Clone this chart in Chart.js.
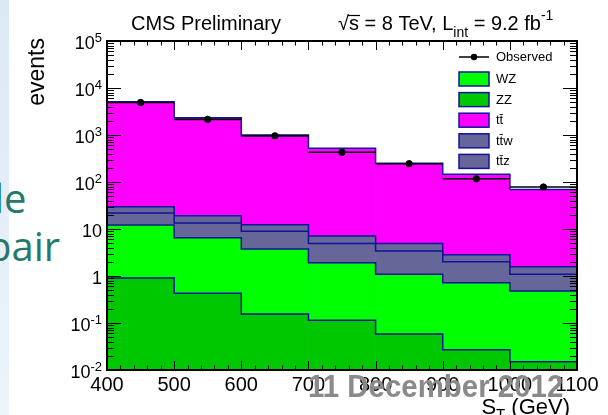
<!DOCTYPE html>
<html>
<head>
<meta charset="utf-8">
<title>S_T distribution</title>
<script src="https://cdn.jsdelivr.net/npm/chart.js@4.4.1/dist/chart.umd.min.js"></script>
<style>
  html, body { margin: 0; padding: 0; background: #fff; }
  #page { position: relative; width: 608px; height: 415px; overflow: hidden; }
  #strip { position: absolute; left: 0; top: 0; width: 9px; height: 415px;
           background: linear-gradient(to bottom, #dce8f5, #edf4fb); }
  .slide { position: absolute; color: #24796a; font-family: "Open Sans", "Noto Sans", sans-serif;
           font-size: 40px; line-height: 1; white-space: nowrap; }
  #stChart { position: absolute; left: 0; top: 0; }
  #date { position: absolute; left: 308px; top: 370px; font: bold 32px "Liberation Sans", Arial, sans-serif;
          line-height: 1; color: #8a8a8a; white-space: nowrap; transform: scaleX(0.92); transform-origin: left top; }
</style>
</head>
<body>
<div id="page">
  <div id="strip"></div>
  <div class="slide" style="left:-6px; top:178px;">le</div>
  <div class="slide" style="left:-13px; top:226px;">pair</div>
  <canvas id="stChart" width="608" height="415"></canvas>
  <div id="date">11 December 2012</div>
</div>
<script>
const FONT = '"Liberation Sans", Arial, Helvetica, sans-serif';

// S_T bins (GeV) and the labels of the lower axis
const stBins = ['400-500', '500-600', '600-700', '700-800', '800-900', '900-1000', '1000-1100'];
const stTicks = [400, 500, 600, 700, 800, 900, 1000, 1100];
const decades = [-2, -1, 0, 1, 2, 3, 4, 5];

// events per bin
const observed = [4900, 2150, 960, 430, 245, 117, 78];
const zz = [0.91, 0.43, 0.155, 0.114, 0.058, 0.027, 0.015];
const wz = [11.3, 6.1, 3.6, 1.8, 1.03, 0.69, 0.465];
const ttw = [9.8, 6.9, 5.15, 3.0, 2.3, 1.3, 0.61];
const ttz = [7.8, 5.8, 3.4, 2.2, 1.55, 0.8, 0.49];
const ttbar = [5070, 2310, 988, 513, 245, 143, 68];

const legendOrder = ['Observed', 'WZ', 'ZZ', 'tt\u0304', 'tt\u0304w', 'tt\u0304z'];

const colWZ = '#00ff00';
const colZZ = '#00c800';
const colTT = '#ff00ff';
const colTTV = '#666699';
const colLine = '#12129c';

// superscript helper: base text followed by a raised exponent
function drawPow(ctx, base, sup, xRight, y, size, supSize) {
  ctx.font = `${size}px ${FONT}`;
  const wb = ctx.measureText(base).width;
  ctx.font = `${supSize}px ${FONT}`;
  const ws = sup ? ctx.measureText(sup).width : 0;
  const x0 = xRight - wb - ws;
  ctx.font = `${size}px ${FONT}`;
  ctx.fillText(base, x0, y + 8);
  if (sup) {
    ctx.font = `${supSize}px ${FONT}`;
    ctx.fillText(sup, x0 + wb, y + 1);
  }
}

const rootStyle = {
  id: 'rootStyle',
  // blue step outline on top of each stacked layer
  afterDatasetDraw(chart, args) {
    const ds = chart.data.datasets[args.index];
    if (ds.type === 'line') return;
    const ctx = chart.ctx;
    ctx.save();
    ctx.strokeStyle = colLine;
    ctx.lineWidth = 1.5;
    ctx.beginPath();
    args.meta.data.forEach((b, i) => {
      const l = b.x - b.width / 2, r = b.x + b.width / 2;
      if (i === 0) ctx.moveTo(l, b.y); else ctx.lineTo(l, b.y);
      ctx.lineTo(r, b.y);
    });
    ctx.stroke();
    ctx.restore();
  },
  // observed: bin-width horizontal bars under the markers
  beforeDatasetDraw(chart, args) {
    const ds = chart.data.datasets[args.index];
    if (ds.type !== 'line') return;
    const ctx = chart.ctx;
    const x = chart.scales.x;
    const half = (x.getPixelForValue(1) - x.getPixelForValue(0)) / 2;
    ctx.save();
    ctx.strokeStyle = '#000';
    ctx.lineWidth = 1.6;
    ctx.beginPath();
    args.meta.data.forEach(p => {
      ctx.moveTo(p.x - half, p.y);
      ctx.lineTo(p.x + half, p.y);
    });
    ctx.stroke();
    ctx.restore();
  },
  afterDraw(chart) {
    const ctx = chart.ctx;
    const { left, right, top, bottom } = chart.chartArea;
    const y = chart.scales.y;
    const xv = chart.scales.xv;
    ctx.save();

    // inward tick marks on all four sides
    ctx.strokeStyle = '#000';
    ctx.lineWidth = 1;
    ctx.beginPath();
    decades.forEach(e => {
      for (let m = 1; m < 10; m++) {
        if (e === 5 && m > 1) break;
        const py = Math.round(y.getPixelForValue(m * Math.pow(10, e))) + 0.5;
        const len = m === 1 ? 14 : 7;
        ctx.moveTo(left, py); ctx.lineTo(left + len, py);
        ctx.moveTo(right, py); ctx.lineTo(right - len, py);
      }
    });
    for (let v = 400; v <= 1100; v += 20) {
      const px = Math.round(xv.getPixelForValue(v)) + 0.5;
      const len = v % 100 === 0 ? 9 : 4.5;
      ctx.moveTo(px, bottom); ctx.lineTo(px, bottom - len);
      ctx.moveTo(px, top); ctx.lineTo(px, top + len);
    }
    ctx.stroke();

    // frame
    ctx.lineWidth = 2;
    ctx.strokeRect(left, top, right - left, bottom - top);

    // y tick labels 10^n
    ctx.fillStyle = '#000';
    ctx.textAlign = 'left';
    ctx.textBaseline = 'alphabetic';
    decades.forEach(e => {
      const py = y.getPixelForValue(Math.pow(10, e));
      const base = e === 0 ? '1' : '10';
      const sup = (e === 0 || e === 1) ? '' : String(e);
      drawPow(ctx, base, sup, left - 5, py, 18, 13);
    });

    // y title
    ctx.save();
    ctx.translate(44, 38);
    ctx.rotate(-Math.PI / 2);
    ctx.textAlign = 'right';
    ctx.font = `23px ${FONT}`;
    ctx.fillText('events', 0, 0);
    ctx.restore();

    // x title S_T (GeV)
    ctx.font = `22px ${FONT}`;
    const wS = ctx.measureText('S').width;
    const wRest = ctx.measureText(' (GeV)').width;
    ctx.font = `15px ${FONT}`;
    const wT = ctx.measureText('T').width;
    let tx = 570 - wS - wT - wRest;
    ctx.font = `22px ${FONT}`;
    ctx.fillText('S', tx, 414);
    ctx.font = `15px ${FONT}`;
    ctx.fillText('T', tx + wS, 419);
    ctx.font = `22px ${FONT}`;
    ctx.fillText(' (GeV)', tx + wS + wT, 414);

    // header
    ctx.font = `20px ${FONT}`;
    ctx.fillText('CMS Preliminary', 131, 30);
    let hx = 338;
    ctx.fillText('\u221A', hx, 30);
    hx += ctx.measureText('\u221A').width;
    const wSmall = ctx.measureText('s').width;
    ctx.fillText('s', hx, 30);
    ctx.lineWidth = 1.2;
    ctx.beginPath();
    ctx.moveTo(hx - 1, 15.5); ctx.lineTo(hx + wSmall + 1, 15.5);
    ctx.stroke();
    hx += wSmall;
    const part1 = ' = 8 TeV, L';
    ctx.fillText(part1, hx, 30);
    hx += ctx.measureText(part1).width;
    ctx.font = `14px ${FONT}`;
    ctx.fillText('int', hx, 37);
    hx += ctx.measureText('int').width;
    ctx.font = `20px ${FONT}`;
    const part2 = ' = 9.2 fb';
    ctx.fillText(part2, hx, 30);
    hx += ctx.measureText(part2).width;
    ctx.font = `14px ${FONT}`;
    ctx.fillText('-1', hx, 20);

    // legend
    const lx0 = right - 118, lx1 = right - 88, ltx = right - 81;
    ctx.textBaseline = 'middle';
    ctx.textAlign = 'left';
    legendOrder.forEach((name, k) => {
      const ds = chart.data.datasets.find(d => d.label === name);
      ctx.font = `13px ${FONT}`;
      ctx.fillStyle = '#000';
      if (ds.type === 'line') {
        const yc = top + 16;
        ctx.strokeStyle = '#000';
        ctx.lineWidth = 1.5;
        ctx.beginPath();
        ctx.moveTo(lx0, yc); ctx.lineTo(lx1, yc);
        ctx.stroke();
        ctx.beginPath();
        ctx.arc((lx0 + lx1) / 2, yc, 3.2, 0, Math.PI * 2);
        ctx.fill();
        ctx.fillText(name, ltx, yc);
      } else {
        const yb = top + 31 + (k - 1) * 20.6;
        ctx.fillStyle = ds.backgroundColor;
        ctx.fillRect(lx0, yb, 30, 14);
        ctx.strokeStyle = colLine;
        ctx.lineWidth = 1.5;
        ctx.strokeRect(lx0, yb, 30, 14);
        ctx.fillStyle = '#000';
        ctx.fillText(name, ltx, yb + 7.5);
      }
    });
    ctx.restore();
  }
};

const ctx = document.getElementById('stChart').getContext('2d');
const stChart = new Chart(ctx, {
  type: 'bar',
  data: {
    labels: stBins,
    datasets: [
      {
        type: 'line', label: 'Observed', data: observed, stack: 'obs', order: -1,
        showLine: false, pointRadius: 3.2, pointHoverRadius: 3.2,
        pointBackgroundColor: '#000', pointBorderColor: '#000', borderColor: '#000', backgroundColor: '#000'
      },
      { label: 'ZZ', data: zz, backgroundColor: colZZ },
      { label: 'WZ', data: wz, backgroundColor: colWZ },
      { label: 'tt\u0304w', data: ttw, backgroundColor: colTTV },
      { label: 'tt\u0304z', data: ttz, backgroundColor: colTTV },
      { label: 'tt\u0304', data: ttbar, backgroundColor: colTT }
    ]
  },
  options: {
    responsive: false,
    animation: false,
    layout: { padding: { top: 41, right: 31, left: 0, bottom: 0 } },
    datasets: { bar: { barPercentage: 1, categoryPercentage: 1, borderWidth: 0 } },
    plugins: { legend: { display: false }, tooltip: { enabled: false } },
    scales: {
      x: { type: 'category', display: false, stacked: true },
      xv: {
        axis: 'x', type: 'linear', position: 'bottom', min: 400, max: 1100, offset: false,
        ticks: {
          stepSize: 100, autoSkip: false, maxRotation: 0, padding: 3, color: '#000',
          font: { family: FONT, size: 20 },
          callback: v => stTicks.includes(v) ? String(v) : ''
        },
        grid: { display: false, drawTicks: false, offset: false },
        border: { display: false },
        afterFit: s => { s.height = 45; }
      },
      y: {
        type: 'logarithmic', stacked: true, min: 0.01, max: 1e5,
        ticks: { display: false },
        grid: { display: false },
        border: { display: false },
        afterFit: s => { s.width = 107; }
      }
    }
  },
  plugins: [rootStyle]
});
</script>
</body>
</html>
